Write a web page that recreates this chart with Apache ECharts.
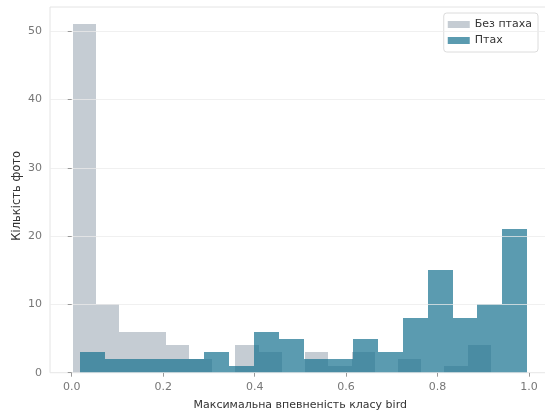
<!DOCTYPE html>
<html>
<head>
<meta charset="utf-8">
<script src="https://cdn.jsdelivr.net/npm/echarts@6/dist/echarts.min.js"></script>
<style>html,body{margin:0;padding:0;background:#fff;}#c{width:545px;height:412px;}</style>
</head>
<body>
<div id="c"></div>
<script>
// Histogram bin edges and counts
const noBirdEdges = [0.002, 0.053, 0.104, 0.155, 0.206, 0.256, 0.307, 0.358, 0.409, 0.460, 0.510, 0.561, 0.612, 0.663, 0.713, 0.764, 0.815, 0.866, 0.917];
const noBirdCounts = [51, 10, 6, 6, 4, 2, 0, 4, 3, 0, 3, 1, 3, 0, 2, 0, 1, 4];
const birdEdges = [0.018, 0.072, 0.127, 0.181, 0.235, 0.290, 0.344, 0.398, 0.453, 0.507, 0.561, 0.616, 0.670, 0.724, 0.779, 0.833, 0.887, 0.942, 0.996];
const birdCounts = [3, 2, 2, 2, 2, 3, 1, 6, 5, 2, 2, 5, 3, 8, 15, 8, 10, 21];
const xTicks = [0.0, 0.2, 0.4, 0.6, 0.8, 1.0];
const yTicks = [0, 10, 20, 30, 40, 50];
const seriesNames = ['Без птаха', 'Птах'];
const xTitle = 'Максимальна впевненість класу bird';
const yTitle = 'Кількість фото';

const GRAY = '#c5ccd3';
const TEAL = 'rgba(21,112,142,0.7)';
const FONT = 'DejaVu Sans';

function toBins(edges, counts) {
  return counts.map((c, i) => [edges[i], edges[i + 1], c]);
}

function renderBin(params, api) {
  const p0 = api.coord([api.value(0), api.value(2)]);
  const p1 = api.coord([api.value(1), 0]);
  const x0 = Math.round(p0[0]), x1 = Math.round(p1[0]);
  const y0 = Math.round(p0[1]), y1 = Math.round(p1[1]);
  return {
    type: 'rect',
    shape: { x: x0, y: y0, width: x1 - x0, height: y1 - y0 },
    style: api.style()
  };
}

const chart = echarts.init(document.getElementById('c'), null, { renderer: 'canvas' });
chart.setOption({
  animation: false,
  backgroundColor: '#fff',
  textStyle: { fontFamily: FONT },
  grid: {
    left: 50, top: 7, right: -5.5, bottom: 39.3,
    show: true, borderColor: '#e4e4e4', borderWidth: 1,
    outerBoundsMode: 'none'
  },
  legend: {
    orient: 'vertical',
    right: 7, top: 13,
    itemWidth: 22, itemHeight: 7, itemGap: 5,
    backgroundColor: '#fff', borderColor: '#dcdcdc', borderWidth: 1, borderRadius: 3,
    padding: [6, 6, 6, 4],
    textStyle: { fontFamily: FONT, fontSize: 11, color: '#333' },
    data: [
      { name: seriesNames[0], icon: 'rect', itemStyle: { color: GRAY } },
      { name: seriesNames[1], icon: 'rect', itemStyle: { color: '#5b9bb0' } }
    ]
  },
  xAxis: {
    type: 'value', min: -0.0475, max: 1.047,
    name: xTitle, nameLocation: 'middle', nameGap: 27, nameMoveOverlap: false,
    nameTextStyle: { fontFamily: FONT, fontSize: 11, color: '#333' },
    axisLine: { show: false },
    axisTick: { show: true, length: 4, lineStyle: { color: '#999' }, customValues: xTicks },
    axisLabel: { customValues: xTicks, margin: 9, fontFamily: FONT, fontSize: 11, color: '#777',
      formatter: v => v.toFixed(1) },
    splitLine: { show: false }
  },
  yAxis: {
    type: 'value', min: 0, max: 53.55, interval: 10, z: 5,
    name: yTitle, nameLocation: 'middle', nameGap: 27, nameMoveOverlap: false,
    nameTextStyle: { fontFamily: FONT, fontSize: 11.5, color: '#333', padding: [0, 12, 0, 0] },
    axisLine: { show: false },
    axisTick: { show: true, length: 4, lineStyle: { color: '#999' }, customValues: yTicks },
    axisLabel: { customValues: yTicks, margin: 8, fontFamily: FONT, fontSize: 11, color: '#777' },
    splitLine: { show: true, lineStyle: { color: 'rgba(235,235,235,0.75)', width: 1 } }
  },
  series: [
    {
      name: seriesNames[0], type: 'custom', renderItem: renderBin, z: 1,
      itemStyle: { color: GRAY },
      encode: { x: [0, 1], y: 2 },
      data: toBins(noBirdEdges, noBirdCounts)
    },
    {
      name: seriesNames[1], type: 'custom', renderItem: renderBin, z: 2,
      itemStyle: { color: TEAL },
      encode: { x: [0, 1], y: 2 },
      data: toBins(birdEdges, birdCounts)
    }
  ]
});
</script>
</body>
</html>
